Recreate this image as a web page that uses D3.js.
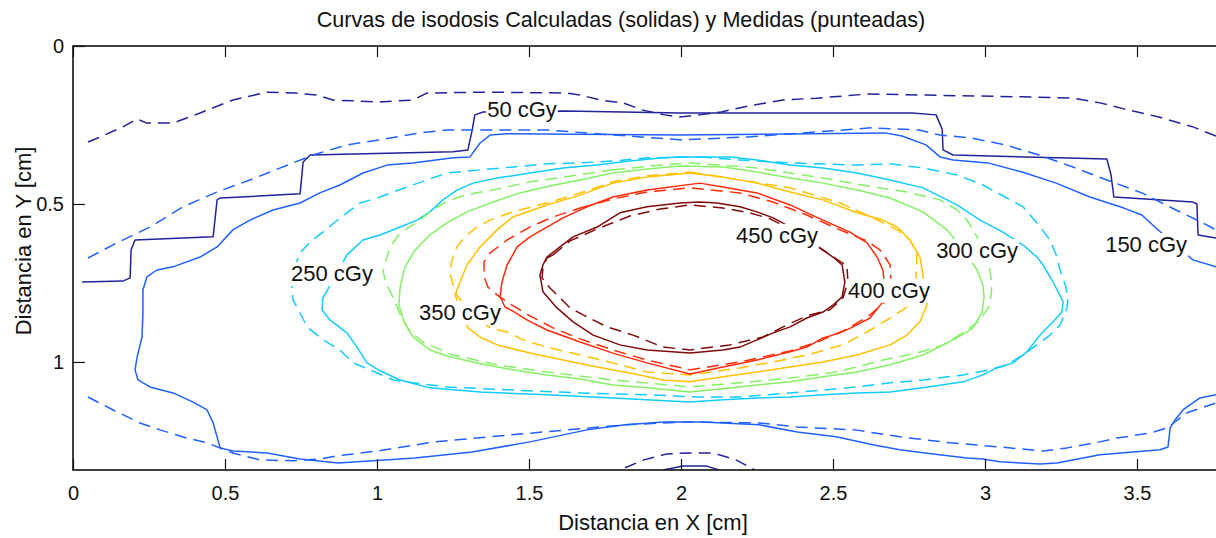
<!DOCTYPE html>
<html>
<head>
<meta charset="utf-8">
<script src="https://cdn.jsdelivr.net/npm/d3@7"></script>
<style>
  html, body { margin: 0; padding: 0; background: #fff; }
  svg { display: block; font-family: "Liberation Sans", Arial, Helvetica, sans-serif; }
</style>
</head>
<body>
<svg id="chart" width="1216" height="538"></svg>
<script>
// ---- isodose levels (cGy) and line colours ----
const doseLevels  = [50, 150, 250, 300, 350, 400, 450];
const levelColors = ["#22229a", "#2060ff", "#10ccff", "#84f064", "#ffc000", "#ff2a0a", "#800a0a"];

// ---- axis ticks ----
const xTicks = [0, 0.5, 1, 1.5, 2, 2.5, 3, 3.5];
const yTicks = [0, 0.5, 1];
const xTickLabels = ["0", "0.5", "1", "1.5", "2", "2.5", "3", "3.5"];
const yTickLabels = ["0", "0.5", "1"];
const xDomain = [0, 3.8];
const yDomain = [0, 1.342];

// ---- contour paths, points are [x cm, y cm] ----
// 50 cGy calculated (stepped outline) and its small arc at the bottom edge
const calc50 = [[0.030,0.747],[0.164,0.744],[0.188,0.734],[0.191,0.646],[0.204,0.614],[0.461,0.604],[0.474,0.487],[0.484,0.481],[0.747,0.468],[0.757,0.367],[0.780,0.345],[1.250,0.335],[1.299,0.329],[1.313,0.266],[1.322,0.218],[1.349,0.209],[1.618,0.206],[1.997,0.212],[2.141,0.212],[2.760,0.212],[2.839,0.218],[2.859,0.263],[2.862,0.329],[2.895,0.345],[3.401,0.358],[3.414,0.405],[3.424,0.478],[3.684,0.494],[3.697,0.500],[3.701,0.598],[3.760,0.608]];
const calc50Bottom = [[1.941,1.342],[2.007,1.329],[2.082,1.329],[2.125,1.342]];
// 50 cGy measured
const meas50 = [[0.049,0.304],[0.089,0.288],[0.164,0.256],[0.211,0.231],[0.243,0.244],[0.329,0.244],[0.418,0.212],[0.526,0.171],[0.638,0.146],[0.730,0.149],[0.803,0.155],[0.855,0.171],[1.010,0.177],[1.118,0.171],[1.164,0.149],[1.349,0.146],[1.625,0.149],[1.668,0.155],[1.734,0.171],[1.809,0.180],[1.875,0.203],[1.947,0.218],[1.997,0.225],[2.062,0.218],[2.132,0.209],[2.220,0.190],[2.336,0.171],[2.447,0.165],[2.615,0.152],[2.783,0.155],[3.122,0.161],[3.289,0.165],[3.378,0.180],[3.457,0.199],[3.572,0.225],[3.684,0.256],[3.760,0.285]];
const meas50Bottom = [[1.816,1.335],[1.878,1.310],[1.954,1.291],[2.030,1.288],[2.105,1.288],[2.181,1.310],[2.243,1.342]];
// 150 cGy calculated
const calc150 = [[3.760,1.104],[3.707,1.114],[3.651,1.152],[3.625,1.184],[3.609,1.209],[3.602,1.269],[3.576,1.278],[3.487,1.285],[3.378,1.294],[3.237,1.320],[3.181,1.323],[3.049,1.316],[2.993,1.307],[2.941,1.304],[2.829,1.291],[2.720,1.278],[2.635,1.263],[2.510,1.237],[2.382,1.222],[2.257,1.199],[2.069,1.190],[1.944,1.190],[1.816,1.199],[1.691,1.215],[1.503,1.253],[1.313,1.285],[1.125,1.304],[0.872,1.320],[0.747,1.307],[0.638,1.288],[0.526,1.282],[0.484,1.272],[0.474,1.237],[0.461,1.193],[0.441,1.152],[0.395,1.127],[0.329,1.098],[0.253,1.079],[0.214,1.057],[0.204,1.025],[0.211,0.984],[0.227,0.921],[0.230,0.845],[0.230,0.772],[0.243,0.731],[0.276,0.709],[0.329,0.699],[0.418,0.668],[0.474,0.636],[0.526,0.582],[0.582,0.551],[0.658,0.519],[0.747,0.497],[0.812,0.465],[0.878,0.440],[0.954,0.402],[1.033,0.377],[1.118,0.370],[1.250,0.354],[1.306,0.351],[1.339,0.307],[1.372,0.282],[1.428,0.278],[1.997,0.282],[2.671,0.275],[2.727,0.285],[2.806,0.313],[2.852,0.351],[2.895,0.361],[3.010,0.370],[3.122,0.399],[3.234,0.434],[3.345,0.478],[3.457,0.513],[3.516,0.535],[3.559,0.573],[3.625,0.630],[3.684,0.677],[3.760,0.699]];
// 150 cGy measured (upper and lower branches)
const meas150Top = [[0.049,0.671],[0.145,0.623],[0.253,0.573],[0.362,0.509],[0.474,0.462],[0.582,0.424],[0.724,0.370],[0.789,0.345],[0.901,0.313],[1.010,0.297],[1.141,0.275],[1.230,0.266],[1.559,0.266],[1.997,0.297],[2.220,0.288],[2.447,0.272],[2.625,0.259],[2.783,0.266],[2.852,0.282],[2.954,0.291],[3.066,0.313],[3.178,0.345],[3.289,0.383],[3.401,0.424],[3.516,0.465],[3.628,0.519],[3.717,0.560],[3.760,0.582]];
const meas150Bottom = [[0.049,1.111],[0.132,1.152],[0.220,1.193],[0.286,1.215],[0.375,1.241],[0.441,1.256],[0.526,1.288],[0.615,1.310],[0.724,1.313],[0.812,1.307],[0.872,1.297],[1.000,1.282],[1.188,1.253],[1.438,1.231],[1.628,1.215],[1.816,1.199],[2.007,1.190],[2.257,1.193],[2.382,1.206],[2.572,1.215],[2.720,1.237],[2.885,1.256],[3.049,1.269],[3.191,1.282],[3.270,1.272],[3.378,1.253],[3.434,1.241],[3.543,1.225],[3.599,1.209],[3.664,1.161],[3.760,1.130]];
// 250 cGy
const calc250 = [[1.997,0.351],[2.164,0.351],[2.250,0.361],[2.359,0.377],[2.467,0.386],[2.579,0.402],[2.688,0.424],[2.796,0.449],[2.908,0.503],[2.984,0.551],[3.059,0.589],[3.125,0.630],[3.171,0.668],[3.191,0.693],[3.224,0.747],[3.257,0.810],[3.253,0.842],[3.224,0.873],[3.181,0.915],[3.138,0.968],[3.092,1.003],[3.039,1.019],[2.993,1.041],[2.928,1.063],[2.796,1.082],[2.688,1.095],[2.579,1.098],[2.467,1.104],[2.359,1.111],[2.250,1.114],[2.138,1.120],[2.030,1.127],[1.776,1.114],[1.559,1.104],[1.339,1.095],[1.174,1.082],[1.076,1.057],[1.010,1.028],[0.967,1.003],[0.934,0.953],[0.901,0.908],[0.845,0.867],[0.819,0.835],[0.822,0.797],[0.862,0.731],[0.901,0.661],[0.954,0.614],[1.010,0.598],[1.076,0.573],[1.132,0.551],[1.174,0.525],[1.217,0.487],[1.263,0.456],[1.316,0.434],[1.395,0.418],[1.503,0.402],[1.612,0.386],[1.724,0.377],[1.832,0.364],[1.941,0.354],[1.997,0.351]];
const meas250 = [[2.062,0.351],[2.194,0.361],[2.359,0.370],[2.579,0.377],[2.688,0.373],[2.796,0.386],[2.908,0.408],[2.993,0.440],[3.072,0.481],[3.125,0.509],[3.171,0.560],[3.214,0.614],[3.237,0.668],[3.247,0.709],[3.266,0.763],[3.273,0.797],[3.270,0.829],[3.247,0.883],[3.214,0.915],[3.171,0.946],[3.125,0.978],[3.072,1.009],[3.016,1.025],[2.928,1.041],[2.796,1.057],[2.688,1.066],[2.579,1.079],[2.467,1.089],[2.359,1.098],[2.194,1.111],[2.062,1.111],[1.888,1.104],[1.668,1.098],[1.447,1.089],[1.230,1.079],[1.118,1.066],[1.053,1.057],[0.977,1.025],[0.921,1.003],[0.878,0.962],[0.822,0.930],[0.770,0.889],[0.747,0.845],[0.724,0.804],[0.717,0.731],[0.747,0.655],[0.780,0.620],[0.822,0.589],[0.862,0.557],[0.901,0.528],[0.944,0.497],[1.010,0.478],[1.053,0.462],[1.099,0.446],[1.164,0.424],[1.230,0.402],[1.339,0.392],[1.447,0.383],[1.559,0.373],[1.668,0.370],[1.776,0.364],[1.888,0.354],[2.062,0.351]];
// 300 cGy
const calc300 = [[1.997,0.380],[2.138,0.383],[2.250,0.399],[2.359,0.418],[2.467,0.434],[2.579,0.456],[2.688,0.481],[2.796,0.525],[2.875,0.582],[2.934,0.652],[2.974,0.709],[2.993,0.756],[2.997,0.794],[2.990,0.842],[2.961,0.892],[2.908,0.924],[2.796,0.978],[2.688,1.009],[2.579,1.032],[2.467,1.047],[2.359,1.063],[2.250,1.073],[2.138,1.085],[2.030,1.095],[1.888,1.082],[1.776,1.073],[1.668,1.054],[1.559,1.041],[1.447,1.025],[1.339,1.006],[1.230,0.981],[1.174,0.962],[1.118,0.921],[1.089,0.873],[1.072,0.820],[1.076,0.763],[1.092,0.699],[1.125,0.646],[1.174,0.598],[1.230,0.560],[1.296,0.525],[1.382,0.494],[1.470,0.465],[1.569,0.443],[1.668,0.424],[1.776,0.402],[1.888,0.389],[1.997,0.380]];
const meas300 = [[1.776,0.392],[1.898,0.380],[2.030,0.370],[2.250,0.386],[2.467,0.418],[2.632,0.446],[2.743,0.462],[2.852,0.487],[2.908,0.519],[2.941,0.551],[2.961,0.582],[3.000,0.652],[3.016,0.709],[3.023,0.756],[3.016,0.820],[2.984,0.867],[2.941,0.899],[2.862,0.946],[2.776,0.972],[2.664,0.994],[2.579,1.016],[2.490,1.035],[2.359,1.051],[2.194,1.066],[2.030,1.079],[1.776,1.057],[1.559,1.032],[1.395,1.009],[1.250,0.978],[1.151,0.937],[1.109,0.905],[1.082,0.861],[1.053,0.797],[1.030,0.750],[1.020,0.715],[1.030,0.677],[1.043,0.636],[1.076,0.592],[1.132,0.557],[1.184,0.519],[1.230,0.491],[1.289,0.472],[1.395,0.453],[1.503,0.430],[1.612,0.415],[1.776,0.392]];
// 350 cGy
const calc350 = [[2.030,0.402],[2.138,0.415],[2.250,0.434],[2.359,0.462],[2.467,0.487],[2.579,0.528],[2.664,0.551],[2.711,0.573],[2.753,0.614],[2.786,0.668],[2.793,0.709],[2.803,0.766],[2.809,0.820],[2.786,0.873],[2.743,0.915],[2.688,0.946],[2.579,0.978],[2.467,1.000],[2.359,1.016],[2.250,1.032],[2.138,1.047],[2.030,1.063],[1.941,1.057],[1.832,1.035],[1.724,1.016],[1.612,0.994],[1.503,0.972],[1.395,0.946],[1.339,0.921],[1.299,0.892],[1.257,0.788],[1.273,0.747],[1.296,0.693],[1.339,0.636],[1.395,0.582],[1.447,0.541],[1.559,0.503],[1.668,0.472],[1.776,0.434],[1.888,0.415],[2.030,0.402]];
const meas350 = [[2.030,0.399],[2.194,0.424],[2.359,0.449],[2.523,0.497],[2.632,0.544],[2.711,0.582],[2.753,0.614],[2.776,0.655],[2.773,0.741],[2.753,0.820],[2.688,0.861],[2.612,0.905],[2.533,0.946],[2.414,0.978],[2.303,1.000],[2.194,1.019],[2.030,1.041],[1.888,1.032],[1.776,1.003],[1.668,0.978],[1.559,0.953],[1.480,0.930],[1.428,0.905],[1.372,0.892],[1.306,0.842],[1.257,0.782],[1.240,0.718],[1.247,0.677],[1.263,0.636],[1.289,0.604],[1.329,0.573],[1.372,0.551],[1.447,0.525],[1.559,0.497],[1.668,0.465],[1.776,0.430],[1.888,0.411],[2.030,0.399]];
// 400 cGy
const calc400 = [[2.062,0.434],[2.138,0.446],[2.250,0.465],[2.359,0.503],[2.467,0.551],[2.556,0.589],[2.612,0.623],[2.645,0.668],[2.664,0.709],[2.671,0.766],[2.661,0.813],[2.622,0.861],[2.566,0.889],[2.523,0.908],[2.467,0.924],[2.414,0.953],[2.359,0.968],[2.250,0.994],[2.138,1.016],[2.030,1.038],[1.888,1.003],[1.776,0.972],[1.668,0.937],[1.559,0.899],[1.493,0.867],[1.447,0.839],[1.421,0.826],[1.405,0.794],[1.411,0.747],[1.428,0.693],[1.461,0.636],[1.503,0.604],[1.559,0.573],[1.612,0.544],[1.691,0.509],[1.776,0.478],[1.888,0.456],[2.062,0.434]];
const meas400 = [[1.668,0.513],[1.776,0.484],[1.888,0.462],[2.030,0.449],[2.194,0.465],[2.303,0.494],[2.414,0.535],[2.523,0.582],[2.612,0.617],[2.655,0.646],[2.688,0.693],[2.691,0.756],[2.671,0.810],[2.622,0.851],[2.546,0.896],[2.457,0.934],[2.359,0.965],[2.194,1.000],[2.030,1.025],[1.888,0.994],[1.776,0.962],[1.668,0.927],[1.579,0.892],[1.503,0.854],[1.444,0.820],[1.395,0.788],[1.365,0.763],[1.352,0.731],[1.352,0.684],[1.372,0.655],[1.428,0.614],[1.503,0.573],[1.579,0.541],[1.668,0.513]];
// 450 cGy
const calc450 = [[2.062,0.494],[2.118,0.497],[2.194,0.509],[2.250,0.525],[2.303,0.544],[2.391,0.589],[2.451,0.636],[2.500,0.668],[2.530,0.693],[2.539,0.747],[2.530,0.794],[2.500,0.820],[2.467,0.842],[2.414,0.861],[2.359,0.889],[2.303,0.908],[2.250,0.930],[2.194,0.953],[2.138,0.962],[2.030,0.972],[1.888,0.962],[1.799,0.946],[1.711,0.915],[1.645,0.873],[1.592,0.829],[1.546,0.778],[1.536,0.725],[1.546,0.693],[1.559,0.668],[1.602,0.636],[1.645,0.604],[1.724,0.573],[1.799,0.528],[1.888,0.509],[1.997,0.497],[2.062,0.494]];
const meas450 = [[1.579,0.661],[1.635,0.617],[1.724,0.579],[1.832,0.538],[1.931,0.516],[2.030,0.503],[2.138,0.513],[2.227,0.528],[2.293,0.547],[2.391,0.595],[2.457,0.639],[2.507,0.671],[2.546,0.696],[2.549,0.747],[2.533,0.797],[2.490,0.835],[2.414,0.854],[2.336,0.889],[2.270,0.921],[2.161,0.946],[2.030,0.962],[1.941,0.953],[1.842,0.915],[1.757,0.889],[1.678,0.851],[1.635,0.829],[1.602,0.797],[1.569,0.766],[1.543,0.734],[1.546,0.699],[1.559,0.671],[1.579,0.661]];

// ---- inline contour labels: level, centre x (cm), baseline y (cm) ----
const labelLevels = [50, 150, 250, 300, 350, 400, 450];
const labelX = [1.477, 3.530, 0.852, 2.974, 1.273, 2.684, 2.316];
const labelY = [0.225, 0.652, 0.744, 0.671, 0.867, 0.797, 0.623];

// table of paths: level, calculated (solid) or measured (dashed), points
const contourTable = [
  { level: 50,  measured: false, pts: calc50 },
  { level: 50,  measured: false, pts: calc50Bottom },
  { level: 50,  measured: true,  pts: meas50 },
  { level: 50,  measured: true,  pts: meas50Bottom },
  { level: 150, measured: false, pts: calc150 },
  { level: 150, measured: true,  pts: meas150Top },
  { level: 150, measured: true,  pts: meas150Bottom },
  { level: 250, measured: false, pts: calc250 },
  { level: 250, measured: true,  pts: meas250 },
  { level: 300, measured: false, pts: calc300 },
  { level: 300, measured: true,  pts: meas300 },
  { level: 350, measured: false, pts: calc350 },
  { level: 350, measured: true,  pts: meas350 },
  { level: 400, measured: false, pts: calc400 },
  { level: 400, measured: true,  pts: meas400 },
  { level: 450, measured: false, pts: calc450 },
  { level: 450, measured: true,  pts: meas450 }
];

// ---- layout ----
const svg = d3.select("#chart");
const plot = { left: 73, top: 46, bottom: 470 };
plot.right = plot.left + 304 * xDomain[1];

const x = d3.scaleLinear().domain(xDomain).range([plot.left, plot.right]);
const y = d3.scaleLinear().domain(yDomain).range([plot.top, plot.bottom]);
const color = d3.scaleOrdinal().domain(doseLevels).range(levelColors);

svg.append("defs").append("clipPath").attr("id", "plotClip")
  .append("rect")
  .attr("x", plot.left).attr("y", plot.top)
  .attr("width", plot.right - plot.left).attr("height", plot.bottom - plot.top);

// contours
const line = d3.line().x(d => x(d[0])).y(d => y(d[1]));
svg.append("g").attr("clip-path", "url(#plotClip)")
  .selectAll("path").data(contourTable).join("path")
  .attr("d", d => line(d.pts))
  .attr("fill", "none")
  .attr("stroke", d => color(d.level))
  .attr("stroke-width", 1.5)
  .attr("stroke-linejoin", "round")
  .attr("stroke-dasharray", d => d.measured ? "12,7" : null);

// contour labels, on white boxes that break the lines beneath them
const labelG = svg.append("g");
labelLevels.forEach((lv, i) => {
  const g = labelG.append("g");
  const bg = g.append("rect").attr("fill", "#fff");
  const t = g.append("text")
    .attr("x", x(labelX[i])).attr("y", y(labelY[i]))
    .attr("text-anchor", "middle")
    .attr("font-size", 22)
    .attr("fill", "#111")
    .text(lv + " cGy");
  const b = t.node().getBBox();
  bg.attr("x", b.x - 1).attr("y", b.y + 1).attr("width", b.width + 2).attr("height", b.height - 1);
});

// axes: ticks point inward on all four sides
const axesG = svg.append("g");
const bottomAxis = d3.axisBottom(x).tickValues(xTicks)
  .tickFormat((d, i) => xTickLabels[i]).tickSizeInner(-11).tickSizeOuter(0).tickPadding(16);
const topAxis = d3.axisTop(x).tickValues(xTicks).tickFormat("").tickSizeInner(-11).tickSizeOuter(0);
const leftAxis = d3.axisLeft(y).tickValues(yTicks)
  .tickFormat((d, i) => yTickLabels[i]).tickSizeInner(-12).tickSizeOuter(0).tickPadding(9);
const rightAxis = d3.axisRight(y).tickValues(yTicks).tickFormat("").tickSizeInner(-12).tickSizeOuter(0);

function styleAxis(g) {
  g.attr("font-family", null).attr("font-size", null);
  g.select(".domain").remove();
  g.selectAll(".tick line").attr("stroke", "#111").attr("stroke-width", 1.2);
  g.selectAll(".tick text").attr("fill", "#111").attr("font-size", 20);
}
axesG.append("g").attr("transform", `translate(0,${plot.bottom})`).call(bottomAxis).call(styleAxis);
axesG.append("g").attr("transform", `translate(0,${plot.top})`).call(topAxis).call(styleAxis);
axesG.append("g").attr("transform", `translate(${plot.left},0)`).call(leftAxis).call(styleAxis);
axesG.append("g").attr("transform", `translate(${plot.right},0)`).call(rightAxis).call(styleAxis);

// axes box
svg.append("rect")
  .attr("x", plot.left).attr("y", plot.top)
  .attr("width", plot.right - plot.left).attr("height", plot.bottom - plot.top)
  .attr("fill", "none").attr("stroke", "#111").attr("stroke-width", 1.6);

// title and axis titles
svg.append("text")
  .attr("x", 621).attr("y", 27)
  .attr("text-anchor", "middle").attr("font-size", 21.6).attr("fill", "#111")
  .text("Curvas de isodosis Calculadas (solidas) y Medidas (punteadas)");

svg.append("text")
  .attr("x", 653).attr("y", 530)
  .attr("text-anchor", "middle").attr("font-size", 22).attr("fill", "#111")
  .text("Distancia en X [cm]");

svg.append("text")
  .attr("transform", "translate(31,241) rotate(-90)")
  .attr("text-anchor", "middle").attr("font-size", 22).attr("fill", "#111")
  .text("Distancia en Y [cm]");
</script>
</body>
</html>
